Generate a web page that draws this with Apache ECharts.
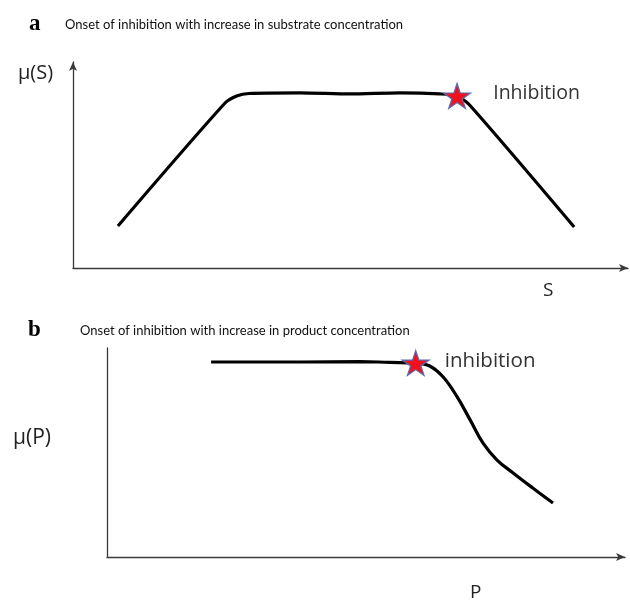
<!DOCTYPE html>
<html>
<head>
<meta charset="utf-8">
<script src="https://cdn.jsdelivr.net/npm/echarts@6/dist/echarts.min.js"></script>
<style>
  html, body { margin: 0; padding: 0; background: #fff; }
  #chart { width: 630px; height: 602px; }
</style>
</head>
<body>
<div id="chart"></div>
<script>
// Panel a: growth rate vs substrate concentration (arbitrary units, 0-100)
const substrateX = [8.1, 27.4, 29.6, 31.7, 40.9, 49.9, 58.9, 66.1, 69.2, 71.5, 90.3];
const substrateMu = [20.4, 80.1, 83.6, 84.7, 85.0, 84.5, 85.0, 84.5, 83.5, 79.0, 19.9];
const substrateOnset = [69.2, 83.5];

// Panel b: growth rate vs product concentration (arbitrary units, 0-100)
const productX = [20.1, 37.3, 48.8, 54.6, 59.6, 62.3, 64.9, 67.6, 70.1, 72.6, 75.3, 78.4, 82.2, 86.1];
const productMu = [93.3, 93.3, 93.5, 93.1, 92.8, 91.4, 86.1, 76.6, 65.6, 54.5, 46.4, 40.2, 33.0, 25.8];
const productOnset = [59.6, 92.8];

const titles = ['Onset of inhibition with increase in substrate concentration',
                'Onset of inhibition with increase in product concentration'];
const onsetLabels = ['Inhibition', 'inhibition'];

const STAR = 'path://M50,0 L61.2,34.5 L97.6,34.5 L68.2,55.9 L79.4,90.5 L50,69.1 L20.6,90.5 L31.8,55.9 L2.4,34.5 L38.8,34.5 Z';
const narrow = 'Lato, "Open Sans", sans-serif';
const sans = '"Open Sans", Lato, sans-serif';
const axisColor = '#3a3a3a';

function pairs(xs, ys) { return xs.map((x, i) => [x, ys[i]]); }

function axisPair(gridIndex, yArrow) {
  return {
    x: {
      type: 'value', gridIndex, min: 0, max: 100,
      axisLine: { show: true, lineStyle: { color: axisColor, width: 1.3 },
                  symbol: ['none', 'arrow'], symbolSize: [6, 9], symbolOffset: [0, 0] },
      axisTick: { show: false }, axisLabel: { show: false }, splitLine: { show: false }
    },
    y: {
      type: 'value', gridIndex, min: 0, max: 100,
      axisLine: { show: true, lineStyle: { color: axisColor, width: 1.3 },
                  symbol: yArrow ? ['none', 'arrow'] : ['none', 'none'], symbolSize: [6, 9] },
      axisTick: { show: false }, axisLabel: { show: false }, splitLine: { show: false }
    }
  };
}

const axA = axisPair(0, true);
const axB = axisPair(1, false);

function onsetSeries(idx, point, label, dist, dy, size) {
  return {
    type: 'scatter', xAxisIndex: idx, yAxisIndex: idx,
    data: [{ value: point, name: label }],
    symbol: STAR, symbolSize: [27, 25], z: 5,
    itemStyle: { color: '#f0101e', borderColor: '#5a6db0', borderWidth: 1.2, opacity: 1 },
    label: {
      show: true, position: 'right', distance: dist, offset: [0, dy],
      formatter: '{b}', color: '#333', fontFamily: sans, fontSize: size
    },
    silent: true
  };
}

const chart = echarts.init(document.getElementById('chart'), null, { renderer: 'canvas' });
chart.setOption({
  backgroundColor: '#ffffff',
  animation: false,
  grid: [
    { left: 73, top: 62, width: 555, height: 206 },
    { left: 107, top: 348, width: 518, height: 209 }
  ],
  xAxis: [axA.x, axB.x],
  yAxis: [axA.y, axB.y],
  series: [
    {
      type: 'line', xAxisIndex: 0, yAxisIndex: 0,
      data: pairs(substrateX, substrateMu), smooth: 0.25,
      showSymbol: false, lineStyle: { color: '#000', width: 3.2 }, silent: true
    },
    onsetSeries(0, substrateOnset, onsetLabels[0], 22, -3, 19.5),
    {
      type: 'line', xAxisIndex: 1, yAxisIndex: 1,
      data: pairs(productX, productMu), smooth: 0.4,
      showSymbol: false, lineStyle: { color: '#000', width: 3.2 }, silent: true
    },
    onsetSeries(1, productOnset, onsetLabels[1], 15, -2, 20.5)
  ],
  graphic: [
    { type: 'text', left: 29, top: 13, style: { text: 'a', font: 'bold 23px "Liberation Serif", serif', fill: '#000' } },
    { type: 'text', left: 65, top: 18, style: { text: titles[0], font: '13px ' + narrow, fill: '#111' } },
    { type: 'text', left: 18, top: 63, style: { text: 'μ(S)', font: '20px ' + sans, fill: '#222' } },
    { type: 'text', left: 543, top: 281, style: { text: 'S', font: '19px ' + sans, fill: '#222' } },
    { type: 'text', left: 28, top: 319, style: { text: 'b', font: 'bold 23px "Liberation Serif", serif', fill: '#000' } },
    { type: 'text', left: 80, top: 324, style: { text: titles[1], font: '13px ' + narrow, fill: '#111' } },
    { type: 'text', left: 13, top: 428, style: { text: 'μ(P)', font: '21px ' + sans, fill: '#222' } },
    { type: 'text', left: 470, top: 583, style: { text: 'P', font: '19px ' + sans, fill: '#222' } }
  ]
});
</script>
</body>
</html>
